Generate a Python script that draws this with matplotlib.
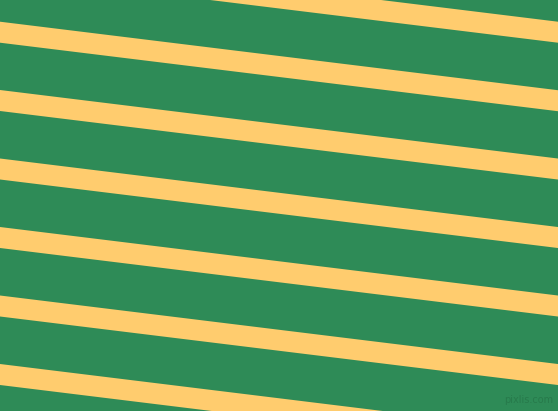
import numpy as np
from matplotlib import pyplot as plt

# Posicion (en pixeles, borde izquierdo) del borde superior de cada franja amarilla
franjas_inicio = [-46.8, 21.7, 90.0, 158.5, 227.0, 295.5, 364.0]
grosor = 21.0
pendiente = 0.1228

verde = '#2E8B57'
amarillo = '#FFCC6E'

fig = plt.figure(figsize=(5.58, 4.11), dpi=100)
ax = fig.add_axes([0, 0, 1, 1])
ax.set_facecolor(verde)
ax.set_xlim(0, 558)
ax.set_ylim(411, 0)

x = np.array([0, 558])
for inicio in franjas_inicio:
    arriba = inicio + pendiente * x
    ax.fill_between(x, arriba, arriba + grosor, color=amarillo, linewidth=0)

ax.text(529, 400, 'pixlis.com', color='#277a4b', fontsize=7, ha='center', va='center')
ax.axis('off')
fig.patch.set_facecolor(verde)
fig.savefig('out.png', dpi=100, facecolor=verde)
